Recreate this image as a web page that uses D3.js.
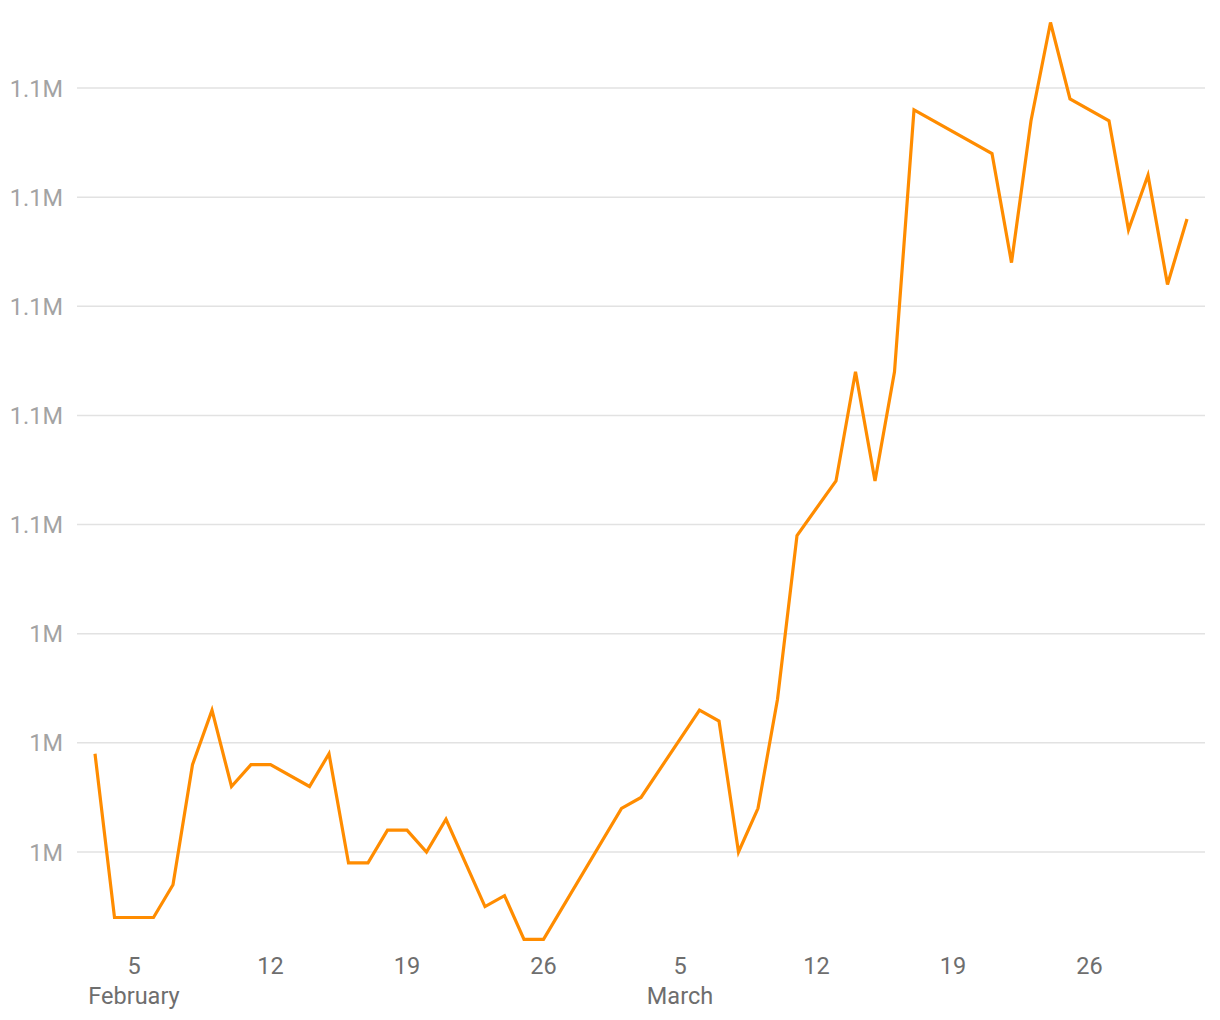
<!DOCTYPE html>
<html><head><meta charset="utf-8">
<script src="https://cdn.jsdelivr.net/npm/d3@7"></script>
<style>
body{margin:0;background:#fff;}
svg{display:block;font-family:Roboto,"Noto Sans",sans-serif;}
</style></head>
<body>
<svg id="chart" width="1220" height="1020"></svg>
<script>
// Data (dates present in the series; values in units)
const dates = ["2023-02-03","2023-02-04","2023-02-05","2023-02-06","2023-02-07","2023-02-08","2023-02-09","2023-02-10","2023-02-11","2023-02-12","2023-02-14","2023-02-15","2023-02-16","2023-02-17","2023-02-18","2023-02-19","2023-02-20","2023-02-21","2023-02-23","2023-02-24","2023-02-25","2023-02-26","2023-03-02","2023-03-03","2023-03-06","2023-03-07","2023-03-08","2023-03-09","2023-03-10","2023-03-11","2023-03-13","2023-03-14","2023-03-15","2023-03-16","2023-03-17","2023-03-21","2023-03-22","2023-03-23","2023-03-24","2023-03-25","2023-03-27","2023-03-28","2023-03-29","2023-03-30","2023-03-31"];
const values = [1029000,1014000,1014000,1014000,1017000,1028000,1033000,1026000,1028000,1028000,1026000,1029000,1019000,1019000,1022000,1022000,1020000,1023000,1015000,1016000,1012000,1012000,1024000,1025000,1033000,1032000,1020000,1024000,1034000,1049000,1054000,1064000,1054000,1064000,1088000,1084000,1074000,1087000,1096000,1089000,1087000,1077000,1082000,1072000,1078000];
const yTicks = [1020000,1030000,1040000,1050000,1060000,1070000,1080000,1090000];
const yTickLabels = ["1M","1M","1M","1.1M","1.1M","1.1M","1.1M","1.1M"];
const xTicks = ["2023-02-05","2023-02-12","2023-02-19","2023-02-26","2023-03-05","2023-03-12","2023-03-19","2023-03-26"];
const xTickLabels = ["5","12","19","26","5","12","19","26"];
const monthLabels = [{date:"2023-02-05", label:"February"},{date:"2023-03-05", label:"March"}];

const parse = d3.utcParse("%Y-%m-%d");
const data = dates.map((d,i)=>({date:parse(d), value:values[i]}));

const svg = d3.select("#chart");
const x = d3.scaleUtc().domain([parse("2023-02-03"), parse("2023-03-31")]).range([95,1187]);
const y = d3.scaleLinear().domain([1020000,1090000]).range([852,88]);
const gridLeft = 77, gridRight = 1205;

// gridlines
svg.append("g").selectAll("line").data(yTicks).join("line")
  .attr("x1",gridLeft).attr("x2",gridRight)
  .attr("y1",d=>y(d)).attr("y2",d=>y(d))
  .attr("stroke","#e2e2e2").attr("stroke-width",1.5);

// y labels
svg.append("g").selectAll("text").data(yTicks).join("text")
  .attr("x",63).attr("y",d=>y(d)+8.5)
  .attr("text-anchor","end")
  .attr("font-size",23.5).attr("fill","#a3a3a3")
  .text((d,i)=>yTickLabels[i]);

// x labels
svg.append("g").selectAll("text").data(xTicks).join("text")
  .attr("x",d=>x(parse(d))).attr("y",974)
  .attr("text-anchor","middle")
  .attr("font-size",23.5).attr("fill","#6e6e6e")
  .text((d,i)=>xTickLabels[i]);
svg.append("g").selectAll("text").data(monthLabels).join("text")
  .attr("x",d=>x(parse(d.date))).attr("y",1004)
  .attr("text-anchor","middle")
  .attr("font-size",23.5).attr("fill","#6e6e6e")
  .text(d=>d.label);

// line
svg.append("path").datum(data)
  .attr("fill","none").attr("stroke","#ff8c00").attr("stroke-width",3.2)
  .attr("stroke-linejoin","miter").attr("stroke-linecap","butt")
  .attr("d", d3.line().x(d=>x(d.date)).y(d=>y(d.value)));
</script>
</body></html>
